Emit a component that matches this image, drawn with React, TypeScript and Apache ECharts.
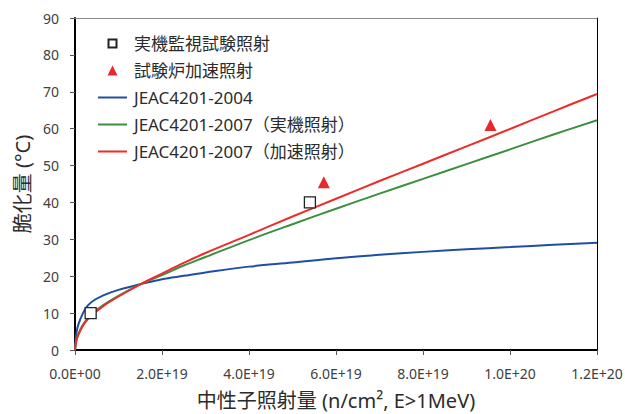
import React, { useEffect, useRef } from "react";
import * as echarts from "echarts";

// Neutron fluence (n/cm², E>1MeV) at which each curve is sampled
const fluence = [
  0, 4e17, 1.2e18, 2.3e18, 3.8e18, 6.5e18, 1e19, 1.5e19, 2e19, 2.5e19,
  3e19, 4e19, 5e19, 6e19, 7e19, 8e19, 9e19, 1e20, 1.1e20, 1.2e20,
];

// Embrittlement prediction curves (°C)
const jeac2004 = [
  0, 5.2, 8.3, 11, 13, 14.8, 16.3, 17.8, 19.2, 20.1,
  21, 22.6, 23.7, 24.9, 25.8, 26.6, 27.3, 27.9, 28.5, 29.1,
];
const jeac2007Actual = [
  0, 3.1, 5.5, 7.7, 9.7, 12.2, 14.7, 17.8, 20.3, 22.9,
  25.2, 29.8, 34.1, 38.3, 42.4, 46.4, 50.4, 54.4, 58.4, 62.3,
];
const jeac2007Accel = [
  0, 2.9, 5.2, 7.4, 9.4, 11.9, 14.5, 17.8, 20.7, 23.6,
  26.3, 31.2, 36.2, 41.0, 45.8, 50.5, 55.2, 59.9, 64.7, 69.4,
];

// Measured data
const surveillanceFluence = [3.6e18, 5.4e19];
const surveillanceShift = [10, 40];
const testReactorFluence = [5.72e19, 9.55e19];
const testReactorShift = [45.5, 61];

const seriesNames = [
  "実機監視試験照射",
  "試験炉加速照射",
  "JEAC4201-2004",
  "JEAC4201-2007（実機照射）",
  "JEAC4201-2007（加速照射）",
];
const lineColors = ["#1f4fa3", "#3b8f3e", "#ee2b2b"];

const xTicks = { min: 0, max: 1.2e20, interval: 2e19 };
const yTicks = { min: 0, max: 90, interval: 10 };

const FONT = "'Noto Sans', 'Noto Sans CJK JP', sans-serif";
// Legend icons drawn in a 29x10 box (the leading moves fix the box extent)
const LINE_ICON = "path://M0 0H29V2H0Z";
const SQUARE_ICON = "path://M0 0M29 10M10.5 1H18.5V9H10.5Z";
const TRIANGLE_ICON = "path://M0 0M29 10M14.5 0L19.5 10H9.5Z";

const sci = (v: number): string => {
  if (v === 0) return "0.0E+00";
  const e = Math.floor(Math.log10(Math.abs(v)) + 1e-9);
  const m = v / Math.pow(10, e);
  return m.toFixed(1) + "E" + (e < 0 ? "-" : "+") + String(Math.abs(e)).padStart(2, "0");
};

const pairs = (xs: number[], ys: number[]) => xs.map((x, i) => [x, ys[i]]);

export default function App() {
  const ref = useRef<HTMLDivElement>(null);

  useEffect(() => {
    if (!ref.current) return;
    const chart = echarts.init(ref.current, null, { renderer: "svg" });

    const lineSeries = (name: string, ys: number[], color: string, z: number) => ({
      name,
      type: "line",
      data: pairs(fluence, ys),
      smooth: 0.35,
      symbol: "none",
      showSymbol: false,
      lineStyle: { color, width: 2 },
      itemStyle: { color },
      z,
    });

    chart.setOption({
      animation: false,
      backgroundColor: "#ffffff",
      textStyle: { fontFamily: FONT },
      grid: {
        left: 75,
        right: 28,
        top: 18,
        bottom: 64,
        containLabel: false,
        outerBoundsMode: "none",
      },
      legend: {
        orient: "vertical",
        left: 92,
        top: 30,
        itemWidth: 29,
        itemHeight: 10,
        itemGap: 10,
        symbolKeepAspect: true,
        data: [
          { name: seriesNames[0], icon: SQUARE_ICON },
          { name: seriesNames[1], icon: TRIANGLE_ICON },
          { name: seriesNames[2], icon: LINE_ICON, itemStyle: { color: lineColors[0] } },
          { name: seriesNames[3], icon: LINE_ICON, itemStyle: { color: lineColors[1] } },
          { name: seriesNames[4], icon: LINE_ICON, itemStyle: { color: lineColors[2] } },
        ],
        textStyle: {
          fontFamily: FONT,
          fontSize: 17,
          color: "#2b2b2b",
          padding: [0, 0, 0, 2],
        },
      },
      xAxis: [
        {
          type: "value",
          min: xTicks.min,
          max: xTicks.max,
          interval: xTicks.interval,
          name: "中性子照射量 (n/cm², E>1MeV)",
          nameLocation: "middle",
          nameGap: 40,
          nameTextStyle: { fontFamily: FONT, fontSize: 20, color: "#2b2b2b" },
          axisLine: { show: true, onZero: false, lineStyle: { color: "#000", width: 2 } },
          axisTick: { show: true, inside: false, length: 5, lineStyle: { color: "#555" } },
          axisLabel: {
            formatter: sci,
            fontFamily: FONT,
            fontSize: 14,
            color: "#404040",
            margin: 16,
            showMinLabel: true,
            showMaxLabel: true,
            hideOverlap: false,
          },
          splitLine: { show: false },
        },
        {
          type: "value",
          position: "top",
          min: xTicks.min,
          max: xTicks.max,
          axisLine: { show: true, onZero: false, lineStyle: { color: "#8a8a8a", width: 1 } },
          axisTick: { show: false },
          axisLabel: { show: false },
          splitLine: { show: false },
        },
      ],
      yAxis: [
        {
          type: "value",
          min: yTicks.min,
          max: yTicks.max,
          interval: yTicks.interval,
          name: "脆化量 (°C)",
          nameLocation: "middle",
          nameGap: 41,
          nameTextStyle: { fontFamily: FONT, fontSize: 20, color: "#2b2b2b" },
          axisLine: { show: true, onZero: false, lineStyle: { color: "#000", width: 2 } },
          axisTick: { show: true, inside: false, length: 5, lineStyle: { color: "#555" } },
          axisLabel: {
            fontFamily: FONT,
            fontSize: 14,
            color: "#404040",
            margin: 16,
            showMinLabel: true,
            showMaxLabel: true,
          },
          splitLine: { show: false },
        },
        {
          type: "value",
          position: "right",
          min: yTicks.min,
          max: yTicks.max,
          axisLine: { show: true, onZero: false, lineStyle: { color: "#000", width: 1 } },
          axisTick: { show: false },
          axisLabel: { show: false },
          splitLine: { show: false },
        },
      ],
      series: [
        {
          name: seriesNames[0],
          type: "scatter",
          data: pairs(surveillanceFluence, surveillanceShift),
          symbol: "rect",
          symbolSize: 11,
          itemStyle: { color: "#ffffff", borderColor: "#222", borderWidth: 1.3, opacity: 1 },
          z: 10,
        },
        {
          name: seriesNames[1],
          type: "scatter",
          data: pairs(testReactorFluence, testReactorShift),
          symbol: "triangle",
          symbolSize: 12,
          itemStyle: { color: "#e8282a", opacity: 1 },
          z: 10,
        },
        lineSeries(seriesNames[2], jeac2004, lineColors[0], 3),
        lineSeries(seriesNames[3], jeac2007Actual, lineColors[1], 4),
        lineSeries(seriesNames[4], jeac2007Accel, lineColors[2], 5),
      ],
    });

    return () => chart.dispose();
  }, []);

  return (
    <div
      ref={ref}
      style={{ position: "fixed", left: 0, top: 0, width: 625, height: 414 }}
    />
  );
}
